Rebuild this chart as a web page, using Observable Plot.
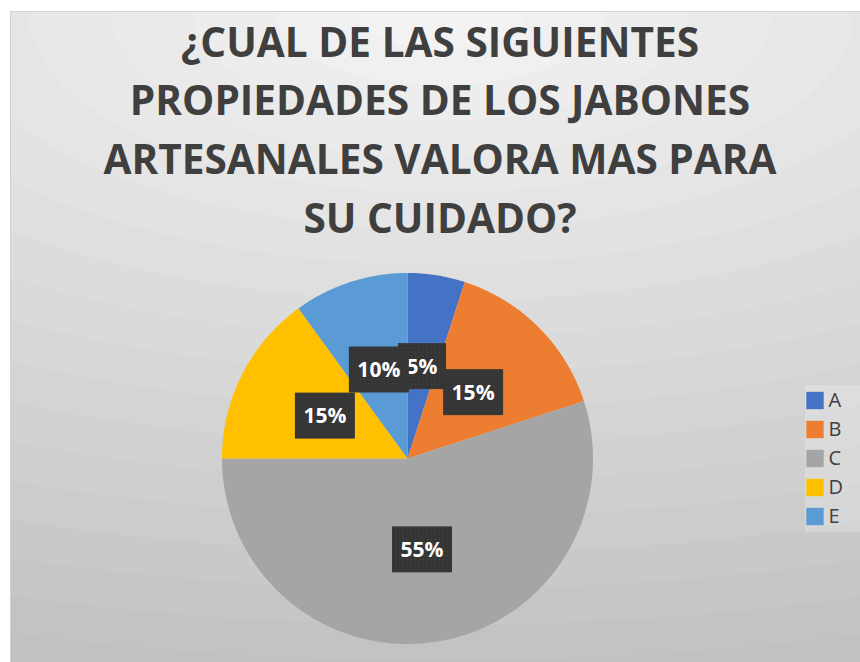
<!DOCTYPE html>
<html><head><meta charset="utf-8">
<script src="https://cdn.jsdelivr.net/npm/d3@7"></script>
<script src="https://cdn.jsdelivr.net/npm/@observablehq/plot@0.6"></script>
<style>
html,body{margin:0;padding:0;background:#fff;}
#root{position:relative;width:860px;height:662px;overflow:hidden;}
#area{position:absolute;left:10px;top:11px;width:870px;height:660px;border:1px solid #d2d2d2;box-sizing:border-box;}
#title{position:absolute;left:10px;width:860px;top:12.7px;text-align:center;font-family:"Open Sans";font-weight:700;font-size:40.6px;line-height:58.7px;color:#3f3f3f;white-space:nowrap;}
#pie{position:absolute;left:0;top:0;width:860px;height:662px;}
#legendbox{position:absolute;left:805px;top:385px;width:60px;height:147px;background:rgba(255,255,255,0.22);}
#legend{position:absolute;left:805px;top:385px;width:60px;height:147px;}
svg{max-width:none !important;}
</style>
</head><body>
<div id="root">
  <div id="area"></div>
  <div id="title"></div>
  <div id="pie"></div>
  <div id="legendbox"></div>
  <div id="legend"></div>
</div>
<script>
// ---- data ----
const titleLines = ["¿CUAL DE LAS SIGUIENTES", "PROPIEDADES DE LOS JABONES", "ARTESANALES VALORA MAS PARA", "SU CUIDADO?"];
const categories = ["A", "B", "C", "D", "E"];
const values = [5, 15, 55, 15, 10];
const colors = ["#4472C4", "#ED7D31", "#A5A5A5", "#FFC000", "#5B9BD5"];

// ---- layout ----
const W = 860, H = 662;
const cx = 407, cy = 458, R = 185.5;

// background: banded radial gradient
(function () {
  const stops = [];
  const dt = 0.075;
  for (let i = 0; i < 28; i++) {
    const t0 = i * dt, t1 = (i + 1) * dt;
    const c = Math.round(244 - 37 * (t0 + dt / 2));
    stops.push(`rgb(${c},${c},${c}) ${(t0 * 100).toFixed(2)}% ${(t1 * 100).toFixed(2)}%`);
  }
  document.getElementById("area").style.background =
    `radial-gradient(ellipse 1100px 480px at 430px 1px, ${stops.join(", ")})`;
})();

document.getElementById("title").innerHTML = titleLines.map(s => s.replace(/&/g, "&amp;")).join("<br>");

// ---- pie geometry from data ----
const table = categories.map((k, i) => ({key: k, value: values[i]}));
const arcs = d3.pie().value(d => d.value).sort(null)(table);
const total = d3.sum(values);
const polys = [];
for (const a of arcs) {
  polys.push({key: a.data.key, x: 0, y: 0});
  const n = Math.max(2, Math.ceil((a.endAngle - a.startAngle) / (Math.PI / 360)));
  for (let j = 0; j <= n; j++) {
    const ang = a.startAngle + (a.endAngle - a.startAngle) * j / n;
    polys.push({key: a.data.key, x: Math.sin(ang), y: Math.cos(ang)});
  }
}
const labels = arcs.map(a => {
  const m = (a.startAngle + a.endAngle) / 2;
  return {key: a.data.key, x: 0.5 * Math.sin(m), y: 0.5 * Math.cos(m), text: Math.round(a.data.value / total * 100) + "%"};
});

const pie = Plot.plot({
  width: W, height: H, margin: 0,
  style: {background: "transparent", overflow: "visible", maxWidth: "none"},
  x: {domain: [-cx / R, (W - cx) / R], range: [0, W], axis: null},
  y: {domain: [-(H - cy) / R, cy / R], range: [H, 0], axis: null},
  color: {domain: categories, range: colors},
  marks: [
    Plot.line(polys, {x: "x", y: "y", z: "key", fill: "key", stroke: "none", curve: "linear"}),
    Plot.text(labels, {x: "x", y: "y", text: "text", fill: "white", fontSize: 21, fontWeight: 700, fontFamily: "Open Sans"})
  ]
});
document.getElementById("pie").appendChild(pie);

// dark label boxes behind each percentage
(function () {
  const ns = "http://www.w3.org/2000/svg";
  const defs = document.createElementNS(ns, "defs");
  defs.innerHTML = '<pattern id="dots" width="4" height="4" patternUnits="userSpaceOnUse"><rect width="4" height="4" fill="#353535"/><rect x="1" y="1" width="1" height="1" fill="#474747"/></pattern>';
  pie.insertBefore(defs, pie.firstChild);
  const texts = pie.querySelectorAll('g[aria-label="text"] text');
  texts.forEach(t => {
    const b = t.getBBox();
    const w = b.width + 17, h = 46;
    const r = document.createElementNS(ns, "rect");
    r.setAttribute("x", b.x + b.width / 2 - w / 2);
    r.setAttribute("y", b.y + b.height / 2 - h / 2 + 0.5);
    r.setAttribute("width", w);
    r.setAttribute("height", h);
    r.setAttribute("fill", "url(#dots)");
    if (t.getAttribute("transform")) r.setAttribute("transform", t.getAttribute("transform"));
    t.parentNode.insertBefore(r, t);
  });
})();

// ---- legend ----
const legend = Plot.plot({
  width: 60, height: 147, margin: 0,
  style: {background: "transparent", overflow: "visible", maxWidth: "none"},
  y: {type: "point", domain: categories, range: [14, 132], padding: 0, axis: null},
  color: {domain: categories, range: colors},
  marks: [
    Plot.dot(categories, {y: d => d, fill: d => d, symbol: "square", r: 9.8, frameAnchor: "left", dx: 9.5}),
    Plot.text(categories, {y: d => d, text: d => d, frameAnchor: "left", dx: 23, textAnchor: "start", fontSize: 20, fill: "#404040", fontFamily: "Open Sans"})
  ]
});
document.getElementById("legend").appendChild(legend);
</script>
</body></html>
